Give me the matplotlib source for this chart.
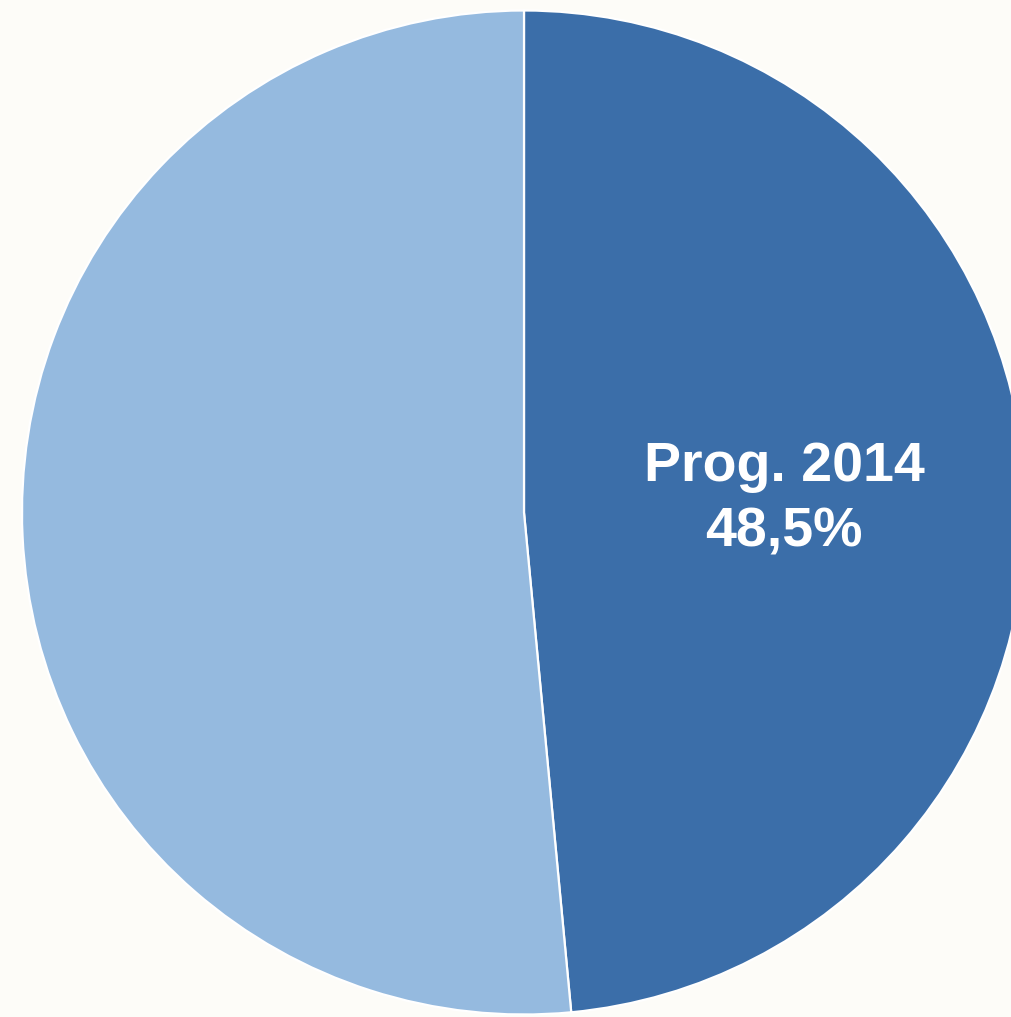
import matplotlib
matplotlib.use("Agg")
import matplotlib.pyplot as plt

categories = ["Prog. 2014", "Rest"]
values = [48.5, 51.5]
label_texts = ["Prog. 2014\n48,5%", ""]
colors = ["#3b6ea9", "#95badf"]

W, H = 1011, 1017
fig = plt.figure(figsize=(W / 100, H / 100), dpi=100)
fig.patch.set_facecolor("#fdfcf8")

cx, cy, R = 524, 512.5, 502
ax = fig.add_axes([(cx - R) / W, (H - cy - R) / H, 2 * R / W, 2 * R / H])
ax.set_facecolor("none")

wedges, _ = ax.pie(values, colors=colors, startangle=90, counterclock=False,
                   radius=1.0, wedgeprops=dict(edgecolor="white", linewidth=1.6))
for w in wedges:
    w.set_clip_on(False)
ax.set_xlim(-1, 1)
ax.set_ylim(-1, 1)
ax.set_aspect("equal")
ax.axis("off")

ax.text(0.518, 0.025, label_texts[0], ha="center", va="center", color="white",
        fontsize=40, fontweight="bold", family="Liberation Sans", linespacing=1.35)

fig.savefig("out.png", dpi=100, facecolor=fig.get_facecolor())
